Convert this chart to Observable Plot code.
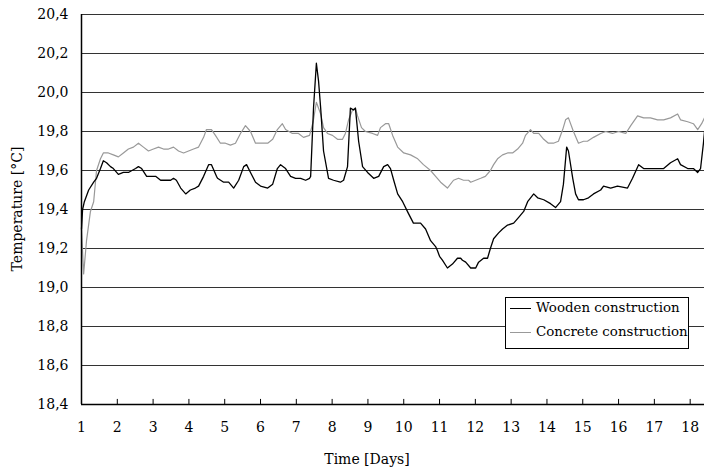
<!DOCTYPE html>
<html><head><meta charset="utf-8">
<script src="https://cdn.jsdelivr.net/npm/d3@7"></script>
<script src="https://cdn.jsdelivr.net/npm/@observablehq/plot@0.6"></script>
<style>
body{margin:0;background:#fff;}
#wrap{position:relative;width:704px;height:475px;font-family:"DejaVu Serif",serif;color:#000;}
#wrap svg{position:absolute;left:0;top:0;}
.lbl{position:absolute;font-size:14px;white-space:nowrap;}
#ylab{left:17px;top:209px;transform:translate(-50%,-50%) rotate(-90deg);}
#xlab{left:367px;top:459px;transform:translate(-50%,-50%);}
#legend{position:absolute;left:505px;top:297px;width:184px;height:52px;box-sizing:border-box;border:1px solid #000;background:#fff;font-size:13.4px;}
#legend .row{position:absolute;left:4px;height:20px;line-height:20px;white-space:nowrap;}
#legend .sw{display:inline-block;width:21px;height:0;vertical-align:middle;margin-right:5px;}
</style></head><body><div id="wrap"></div>
<script>
const seriesNames = ["Wooden construction", "Concrete construction"];
const seriesColors = ["#000000", "#999999"];

const woodDays = [1.00,1.03,1.08,1.20,1.34,1.42,1.53,1.61,1.70,1.81,1.89,2.03,2.17,2.31,2.51,2.59,2.68,2.82,3.07,3.21,3.49,3.57,3.65,3.77,3.91,4.04,4.18,4.27,4.41,4.55,4.63,4.77,4.80,4.97,5.11,5.25,5.39,5.53,5.61,5.72,5.86,6.00,6.20,6.34,6.47,6.56,6.70,6.84,6.98,7.12,7.26,7.37,7.40,7.48,7.56,7.62,7.68,7.76,7.90,8.04,8.23,8.32,8.43,8.51,8.60,8.65,8.74,8.85,8.99,9.16,9.30,9.44,9.55,9.63,9.72,9.83,9.97,10.13,10.27,10.47,10.61,10.75,10.89,10.94,11.00,11.08,11.22,11.36,11.50,11.59,11.64,11.73,11.87,12.01,12.09,12.23,12.34,12.42,12.51,12.65,12.76,12.90,13.07,13.21,13.35,13.46,13.63,13.74,13.91,14.10,14.24,14.38,14.46,14.55,14.60,14.72,14.80,14.88,15.02,15.16,15.30,15.50,15.58,15.78,15.97,16.25,16.39,16.56,16.70,16.89,17.09,17.26,17.45,17.65,17.73,17.93,18.09,18.21,18.29,18.37,18.40];
const woodTemps = [19.30,19.40,19.44,19.50,19.54,19.56,19.61,19.65,19.64,19.62,19.61,19.58,19.59,19.59,19.61,19.62,19.61,19.57,19.57,19.55,19.55,19.56,19.55,19.51,19.48,19.50,19.51,19.52,19.57,19.63,19.63,19.57,19.56,19.54,19.54,19.51,19.55,19.62,19.63,19.59,19.54,19.52,19.51,19.53,19.61,19.63,19.61,19.57,19.56,19.56,19.55,19.56,19.57,19.92,20.15,20.06,19.92,19.70,19.56,19.55,19.54,19.55,19.62,19.92,19.91,19.92,19.75,19.62,19.59,19.56,19.57,19.62,19.63,19.61,19.55,19.48,19.44,19.38,19.33,19.33,19.30,19.24,19.21,19.19,19.16,19.14,19.10,19.12,19.15,19.15,19.14,19.13,19.10,19.10,19.13,19.15,19.15,19.20,19.25,19.28,19.30,19.32,19.33,19.36,19.39,19.44,19.48,19.46,19.45,19.43,19.41,19.44,19.53,19.72,19.70,19.56,19.48,19.45,19.45,19.46,19.48,19.50,19.52,19.51,19.52,19.51,19.56,19.63,19.61,19.61,19.61,19.61,19.64,19.66,19.63,19.61,19.61,19.59,19.61,19.74,19.80];

const concDays = [1.00,1.06,1.14,1.25,1.34,1.42,1.53,1.61,1.75,1.89,2.03,2.17,2.31,2.45,2.59,2.73,2.87,3.01,3.15,3.29,3.43,3.57,3.71,3.85,3.99,4.13,4.27,4.41,4.49,4.63,4.74,4.88,5.02,5.16,5.30,5.44,5.58,5.72,5.86,6.00,6.20,6.34,6.47,6.61,6.70,6.89,7.06,7.20,7.37,7.47,7.56,7.68,7.76,7.87,8.01,8.15,8.29,8.37,8.46,8.57,8.65,8.71,8.82,8.93,9.13,9.27,9.35,9.49,9.58,9.69,9.83,10.00,10.19,10.39,10.55,10.75,10.89,11.03,11.22,11.39,11.53,11.67,11.81,11.87,12.01,12.15,12.28,12.42,12.51,12.62,12.76,12.90,13.04,13.18,13.32,13.40,13.54,13.63,13.77,13.91,14.04,14.18,14.32,14.44,14.52,14.60,14.74,14.88,15.02,15.13,15.30,15.50,15.64,15.83,16.00,16.20,16.34,16.53,16.70,16.89,17.09,17.26,17.45,17.65,17.73,17.93,18.09,18.21,18.32,18.40];
const concTemps = [19.30,19.07,19.24,19.39,19.44,19.60,19.66,19.69,19.69,19.68,19.67,19.69,19.71,19.72,19.74,19.72,19.70,19.71,19.72,19.71,19.71,19.72,19.70,19.69,19.70,19.71,19.72,19.77,19.81,19.81,19.78,19.74,19.74,19.73,19.74,19.79,19.83,19.80,19.74,19.74,19.74,19.76,19.81,19.84,19.81,19.79,19.79,19.77,19.78,19.85,19.95,19.89,19.82,19.79,19.78,19.76,19.76,19.79,19.86,19.91,19.92,19.88,19.82,19.80,19.79,19.78,19.82,19.84,19.84,19.78,19.72,19.69,19.68,19.66,19.63,19.60,19.57,19.54,19.51,19.55,19.56,19.55,19.55,19.54,19.55,19.56,19.57,19.60,19.63,19.66,19.68,19.69,19.69,19.71,19.74,19.78,19.81,19.79,19.79,19.76,19.74,19.74,19.75,19.81,19.86,19.87,19.80,19.74,19.75,19.75,19.77,19.79,19.80,19.79,19.80,19.79,19.83,19.88,19.87,19.87,19.86,19.86,19.87,19.89,19.86,19.85,19.84,19.81,19.84,19.87];

const xTicks = [1,2,3,4,5,6,7,8,9,10,11,12,13,14,15,16,17,18];
const yTicks = [18.4,18.6,18.8,19.0,19.2,19.4,19.6,19.8,20.0,20.2,20.4];
const xLabel = "Time [Days]";
const yLabel = "Temperature [°C]";

const wood = woodDays.map((d,i)=>({day:d, temp:woodTemps[i]}));
const conc = concDays.map((d,i)=>({day:d, temp:concTemps[i]}));

const chart = Plot.plot({
  width: 704, height: 475,
  marginLeft: 81, marginRight: 0, marginTop: 14, marginBottom: 71,
  style: {fontFamily: '"DejaVu Serif", serif', fontSize: "14px", color: "#000", background: "transparent"},
  x: {domain: [1, 18.4]},
  y: {domain: [18.4, 20.4]},
  marks: [
    Plot.ruleY(yTicks, {stroke: "#333", strokeWidth: 1}),
    Plot.ruleX(xTicks.slice(1), {y1: 18.4, y2: 18.426, stroke: "#000", strokeWidth: 1}),
    Plot.line(conc, {x: "day", y: "temp", stroke: seriesColors[1], strokeWidth: 1.2}),
    Plot.line(wood, {x: "day", y: "temp", stroke: seriesColors[0], strokeWidth: 1.3}),
    Plot.ruleY([18.4], {stroke: "#000", strokeWidth: 1.5}),
    Plot.ruleX([1], {y1: 18.4, y2: 20.4, stroke: "#000", strokeWidth: 1.5}),
    Plot.axisX({ticks: xTicks, tickSize: 0, tickPadding: 18, label: null, tickFormat: d => String(d)}),
    Plot.axisY({ticks: yTicks, tickSize: 0, tickPadding: 13, label: null, tickFormat: d => d.toFixed(1).replace(".", ",")})
  ]
});

const wrap = document.getElementById("wrap");
wrap.appendChild(chart);

const yl = document.createElement("div"); yl.className = "lbl"; yl.id = "ylab"; yl.textContent = yLabel; wrap.appendChild(yl);
const xl = document.createElement("div"); xl.className = "lbl"; xl.id = "xlab"; xl.textContent = xLabel; wrap.appendChild(xl);

const lg = document.createElement("div"); lg.id = "legend";
seriesNames.forEach((name, i) => {
  const row = document.createElement("div"); row.className = "row"; row.style.top = (i === 0 ? 0 : 24) + "px";
  const sw = document.createElement("span"); sw.className = "sw"; sw.style.borderTop = "1.3px solid " + seriesColors[i];
  row.appendChild(sw); row.appendChild(document.createTextNode(name));
  lg.appendChild(row);
});
wrap.appendChild(lg);
</script></body></html>
